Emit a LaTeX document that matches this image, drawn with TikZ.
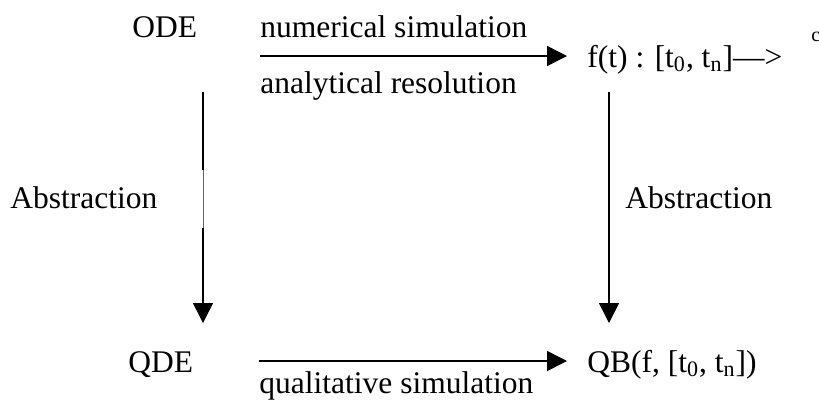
\documentclass[tikz,border=0pt]{standalone}
\usepackage{fontspec}
\setmainfont{Liberation Serif}
\usetikzlibrary{arrows.meta}
\tikzset{
  lbl/.style={inner sep=0pt, anchor=base west, font=\fontsize{15.75}{19}\selectfont},
  conn/.style={line width=0.75pt, -{Triangle[length=10pt,width=10pt]}},
}
\begin{document}
\begin{tikzpicture}[x=0.5pt, y=-0.5pt]
\useasboundingbox (0,0) rectangle (819,404);

% top row
\node[lbl] (ode) at (132,37.5) {ODE};
\node[lbl] (num) at (260,37.5) {numerical simulation};
\node[lbl] (ana) at (260,93) {analytical resolution};
\node[lbl] (ft) at (587,67) {f(t) : [t\textsubscript{0}, t\textsubscript{n}]—>};
\node[inner sep=0pt, anchor=base west, font=\fontsize{10}{12}\selectfont] (cc) at (811,41) {c};

% side labels
\node[lbl] (absl) at (10,208) {Abstraction};
\node[lbl] (absr) at (625,208) {Abstraction};

% bottom row
\node[lbl] (qde) at (128,372) {QDE};
\node[lbl] (qb) at (587,372) {QB(f, [t\textsubscript{0}, t\textsubscript{n}])};
\node[lbl] (qual) at (259,393) {qualitative simulation};

% arrow end points
\coordinate (t1) at (260,56);
\coordinate (t2) at (567,56);
\coordinate (b1) at (259,361);
\coordinate (b2) at (567,361);
\coordinate (l1) at (203,92);
\coordinate (lm1) at (203,170);
\coordinate (lm2) at (203,228);
\coordinate (l2) at (203,323);
\coordinate (r1) at (609,92);
\coordinate (r2) at (609,323);

% connectors
\draw[conn] (t1) -- (t2);
\draw[conn] (b1) -- (b2);
\draw[line width=0.75pt] (l1) -- (lm1);
\draw[line width=0.4pt, black!60] (lm1) -- (lm2);
\draw[conn] (lm2) -- (l2);
\draw[conn] (r1) -- (r2);
\end{tikzpicture}
\end{document}
